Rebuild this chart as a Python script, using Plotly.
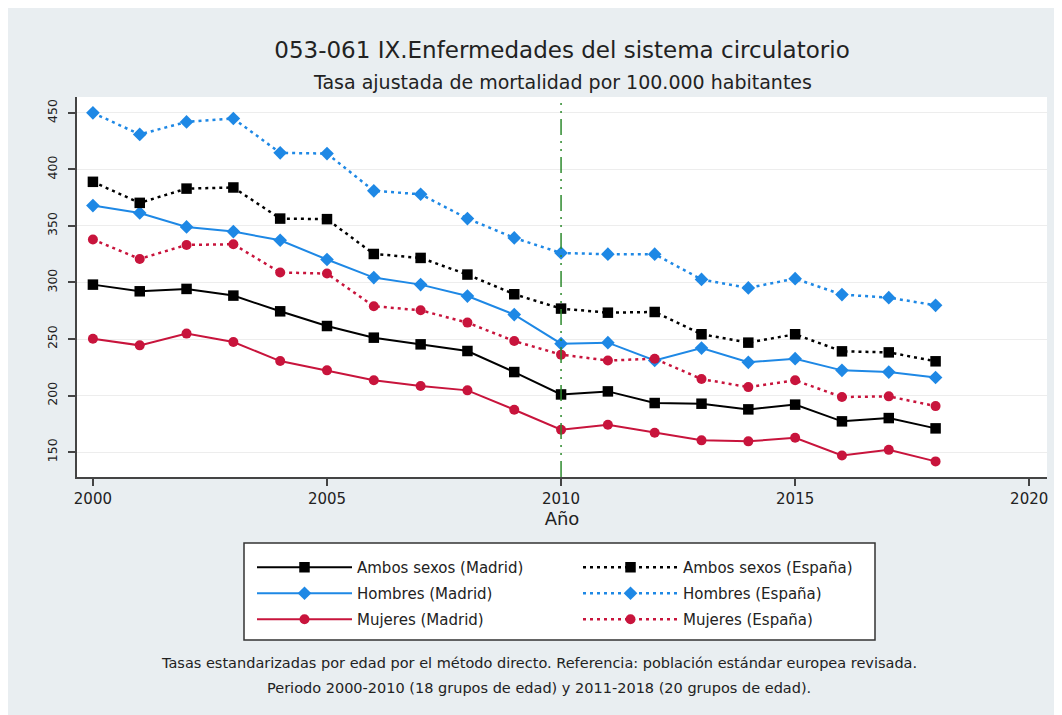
import plotly.graph_objects as go

years = list(range(2000, 2019))

ambos_madrid = [298.1, 292.2, 294.3, 288.4, 274.5, 261.5, 251.2, 245.3, 239.4, 220.8,
                201.0, 203.7, 193.4, 192.8, 187.8, 192.0, 177.2, 180.1, 171.0]
hombres_madrid = [368.0, 361.5, 349.1, 345.0, 337.3, 320.3, 304.3, 298.1, 288.0, 271.6,
                  245.9, 246.8, 231.0, 242.0, 229.4, 232.6, 222.3, 220.8, 216.0]
mujeres_madrid = [250.3, 244.4, 254.8, 247.4, 230.5, 222.3, 213.5, 208.4, 204.6, 187.5,
                  169.8, 174.2, 167.2, 160.4, 159.5, 162.7, 147.0, 152.0, 141.8]
ambos_espana = [389.0, 370.4, 383.0, 384.0, 356.5, 356.0, 325.2, 321.7, 307.0, 289.6,
                276.9, 273.3, 273.9, 254.2, 246.8, 254.2, 239.1, 238.2, 230.3]
hombres_espana = [450.0, 430.9, 442.0, 445.0, 414.6, 414.0, 381.0, 378.0, 356.5, 339.4,
                  326.1, 325.0, 325.0, 302.7, 295.2, 303.4, 289.3, 286.6, 279.8]
mujeres_espana = [338.0, 320.8, 333.2, 333.8, 308.8, 307.9, 279.0, 275.4, 264.5, 248.2,
                  236.2, 231.0, 232.6, 214.6, 207.5, 213.5, 198.7, 199.3, 190.7]

x_ticks = [2000, 2005, 2010, 2015, 2020]
y_ticks = [150, 200, 250, 300, 350, 400, 450]
ref_year = 2010

BLACK = "#000000"
BLUE = "#1e88e5"
RED = "#c8143c"
BG = "#e9eef1"
TXT = "#222222"
FONT = "DejaVu Sans, Liberation Sans, Arial, sans-serif"

series = [
    ("Ambos sexos (Madrid)", ambos_madrid, BLACK, "solid", "square", 10.5, "legend"),
    ("Hombres (Madrid)", hombres_madrid, BLUE, "solid", "diamond", 10.5, "legend"),
    ("Mujeres (Madrid)", mujeres_madrid, RED, "solid", "circle", 10, "legend"),
    ("Ambos sexos (España)", ambos_espana, BLACK, "3px,4px", "square", 10.5, "legend2"),
    ("Hombres (España)", hombres_espana, BLUE, "3px,4px", "diamond", 10.5, "legend2"),
    ("Mujeres (España)", mujeres_espana, RED, "3px,4px", "circle", 10, "legend2"),
]

fig = go.Figure()
for name, vals, col, dash, sym, size, leg in series:
    fig.add_trace(go.Scatter(
        x=years, y=vals, name=name, mode="lines+markers",
        line=dict(color=col, width=2 if dash == "solid" else 2.5, dash=dash),
        marker=dict(symbol=sym, size=size, color=col),
        legend=leg, legendgroup=name,
    ))

W, H = 1062, 715
OFF = 8  # page offset of the figure in the screenshot
L, R, T, B = 69, 23, 89, 246
pw, ph = W - L - R, H - T - B


def fx(xs):
    """screen x -> paper x"""
    return (xs - OFF - L) / pw


def fy(ys):
    """screen y -> paper y"""
    return (H - B - (ys - OFF)) / ph


shapes = [
    # legend box
    dict(type="rect", xref="paper", yref="paper", x0=fx(244), x1=fx(875), y0=fy(640), y1=fy(543),
         fillcolor="white", line=dict(color="#333333", width=1.5), layer="below"),
    # reference year line
    dict(type="line", xref="x", yref="paper", x0=ref_year, x1=ref_year, y0=0, y1=1,
         line=dict(color="#2e8b2e", width=1.5, dash="16px,6px,2px,6px,2px,6px"), layer="above"),
]

annotations = [
    dict(text="Tasa ajustada de mortalidad por 100.000 habitantes", xref="paper", yref="paper",
         x=0.5, y=fy(82), showarrow=False, font=dict(size=19, color=TXT, family=FONT),
         xanchor="center", yanchor="middle"),
    dict(text="Tasas estandarizadas por edad por el método directo. Referencia: población estándar europea revisada.",
         xref="paper", yref="paper", x=fx(539), y=fy(663), showarrow=False,
         font=dict(size=14.5, color=TXT, family=FONT), xanchor="center", yanchor="middle"),
    dict(text="Periodo 2000-2010 (18 grupos de edad) y 2011-2018 (20 grupos de edad).",
         xref="paper", yref="paper", x=fx(539), y=fy(688), showarrow=False,
         font=dict(size=14.5, color=TXT, family=FONT), xanchor="center", yanchor="middle"),
]

legend_common = dict(
    orientation="v", bgcolor="rgba(0,0,0,0)", borderwidth=0,
    font=dict(size=15, color=TXT, family=FONT),
    yanchor="top", xanchor="left", tracegroupgap=3.5, itemwidth=95,
)

fig.update_layout(
    width=W, height=H,
    margin=dict(l=L, r=R, t=T, b=B),
    paper_bgcolor=BG, plot_bgcolor="white",
    font=dict(family=FONT, color=TXT),
    title=dict(text="053-061 IX.Enfermedades del sistema circulatorio", xref="paper", x=0.5,
               xanchor="center", y=1 - (50 - OFF) / H, yanchor="middle",
               font=dict(size=23, color=TXT, family=FONT)),
    xaxis=dict(range=[1999.66, 2020.38], tickvals=x_ticks, showgrid=False, zeroline=False,
               showline=True, linecolor="#444444", linewidth=2, ticks="outside", ticklen=7,
               tickcolor="#444444", tickwidth=1.5, tickfont=dict(size=15, color=TXT),
               title=dict(text="Año", font=dict(size=18, color=TXT), standoff=2)),
    yaxis=dict(range=[128, 464], tickvals=y_ticks, showgrid=True, gridcolor="#ededed", gridwidth=1,
               zeroline=False, showline=True, linecolor="#444444", linewidth=2, ticks="outside",
               ticklen=7, tickcolor="#444444", tickwidth=1.5, tickangle=-90, ticklabelstandoff=6,
               tickfont=dict(size=12.5, color=TXT)),
    legend=dict(x=fx(252), y=fy(551), **legend_common),
    legend2=dict(x=fx(578), y=fy(551), **legend_common),
    shapes=shapes,
    annotations=annotations,
)

fig.write_html("out.html")
